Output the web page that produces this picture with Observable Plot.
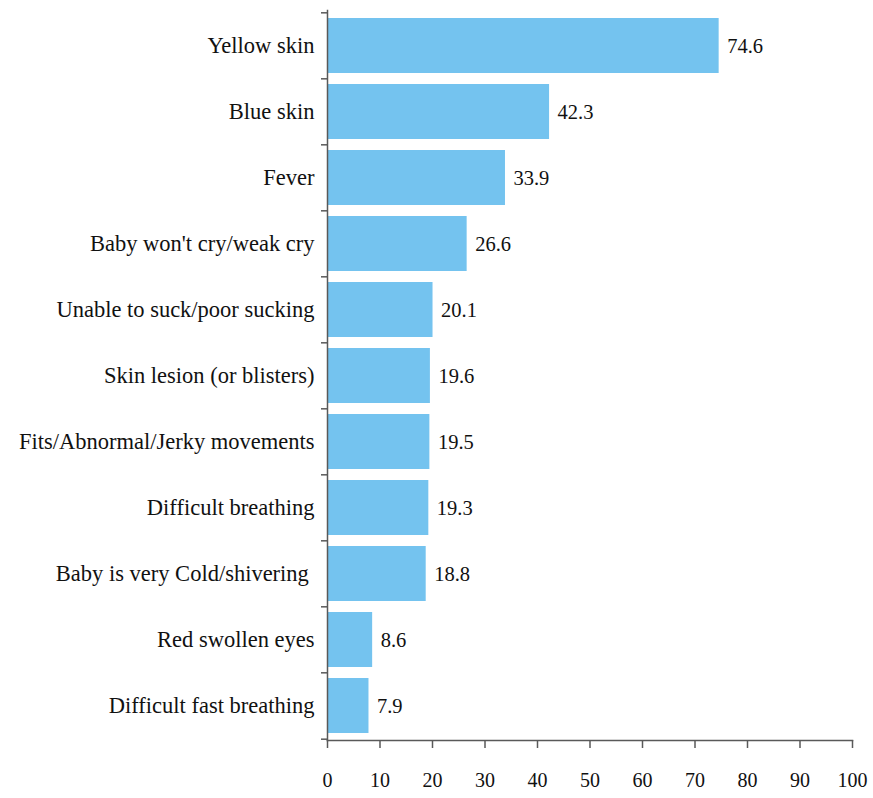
<!DOCTYPE html>
<html>
<head>
<meta charset="utf-8">
<script src="https://cdn.jsdelivr.net/npm/d3@7"></script>
<script src="https://cdn.jsdelivr.net/npm/@observablehq/plot@0.6"></script>
<style>
  html, body { margin: 0; padding: 0; background: #fff; }
  #chart svg { display: block; }
</style>
</head>
<body>
<div id="chart"></div>
<script>
const categories = [
  "Yellow skin",
  "Blue skin",
  "Fever",
  "Baby won't cry/weak cry",
  "Unable to suck/poor sucking",
  "Skin lesion (or blisters)",
  "Fits/Abnormal/Jerky movements",
  "Difficult breathing",
  "Baby is very Cold/shivering\u00a0",
  "Red swollen eyes",
  "Difficult fast breathing"
];
const values = [74.6, 42.3, 33.9, 26.6, 20.1, 19.6, 19.5, 19.3, 18.8, 8.6, 7.9];
const xTicks = [0, 10, 20, 30, 40, 50, 60, 70, 80, 90, 100];

const data = categories.map((c, i) => ({category: c, value: values[i]}));

const W = 873, H = 798;
const mTop = 10, mBottom = 58, mLeft = 327, mRight = 21;
const step = (H - mTop - mBottom) / categories.length;
const axisColor = "#595959";
const barColor = "#74C3EF";

const chart = Plot.plot({
  width: W,
  height: H,
  marginTop: mTop,
  marginBottom: mBottom,
  marginLeft: mLeft,
  marginRight: mRight,
  style: {fontFamily: "'Liberation Serif', serif", fontSize: "20px", color: "#111", background: "#fff"},
  x: {domain: [0, 100]},
  y: {domain: categories, paddingInner: 0.17, paddingOuter: 0.085},
  marks: [
    Plot.barX(data, {x: "value", y: "category", fill: barColor}),
    Plot.text(data, {x: "value", y: "category", text: d => d.value.toFixed(1), textAnchor: "start", dx: 8, fill: "#111", fontSize: 20.5}),
    Plot.frame({anchor: "left", stroke: axisColor, strokeWidth: 1.5}),
    Plot.frame({anchor: "bottom", stroke: axisColor, strokeWidth: 1.5}),
    Plot.axisX({ticks: xTicks, tickSize: 8, tickPadding: 24, stroke: axisColor, strokeWidth: 1.5, fill: "#111", label: null, fontSize: 20}),
    Plot.axisY({tickSize: 0, tickPadding: 13, label: null, fill: "#111", fontSize: 22.5}),
    Plot.axisY({tickSize: 6, tickFormat: () => "", dy: -step / 2, stroke: axisColor, strokeWidth: 1.5, label: null}),
    Plot.axisY({ticks: [categories[categories.length - 1]], tickSize: 6, tickFormat: () => "", dy: step / 2, stroke: axisColor, strokeWidth: 1.5, label: null})
  ]
});
document.getElementById("chart").appendChild(chart);
</script>
</body>
</html>
